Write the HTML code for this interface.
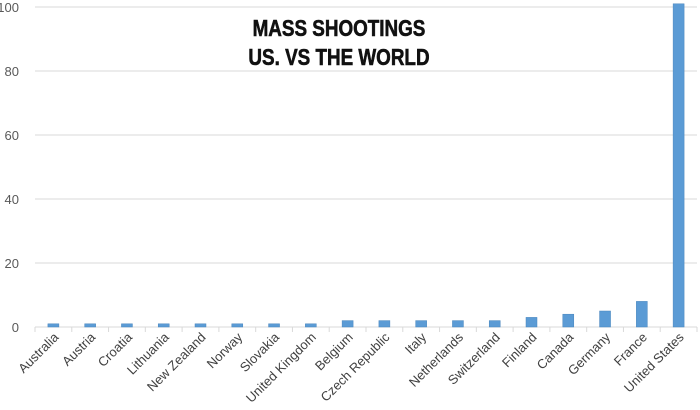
<!DOCTYPE html>
<html><head><meta charset="utf-8"><style>
body{margin:0;background:#fff;}
svg{display:block;font-family:"Liberation Sans",sans-serif;}
</style></head><body>
<svg id="chart" width="700" height="410">
<g id="grid"></g><g id="bars"></g><g id="labels"></g>
<g font-weight="bold" font-size="23" fill="#111" text-anchor="middle" stroke="#111" stroke-width="0.6">
<text x="339" y="36" transform="translate(339,0) scale(0.82,1) translate(-339,0)">MASS SHOOTINGS</text>
<text x="339" y="65" transform="translate(339,0) scale(0.82,1) translate(-339,0)">US. VS THE WORLD</text>
</g>
</svg>
<script>
const categories=["Australia","Austria","Croatia","Lithuania","New Zealand","Norway","Slovakia","United Kingdom","Belgium","Czech Republic","Italy","Netherlands","Switzerland","Finland","Canada","Germany","France","United States"];
const values=[1,1,1,1,1,1,1,1,2,2,2,2,2,3,4,5,8,101];
const yTicks=[0,20,40,60,80,100];
const NS="http://www.w3.org/2000/svg";
const x0=35,x1=697,y0=327,pxPer=3.2;
const bw=(x1-x0)/categories.length;
const y=v=>y0-v*pxPer;
const xc=i=>x0+bw*(i+0.5);
function mk(t,a,p){const e=document.createElementNS(NS,t);for(const k in a)e.setAttribute(k,a[k]);p.appendChild(e);return e;}
const grid=document.getElementById('grid');
yTicks.forEach(t=>{
  if(t>0){const l=mk('line',{x1:x0,x2:x1,y1:y(t),y2:y(t),stroke:'#d9d9d9','stroke-width':1},grid);
  
  }
  const tx=mk('text',{x:19,y:y(t)+5,'text-anchor':'end','font-size':13,fill:'#595959'},grid);
  tx.textContent=t;
  
  
});
const ax=mk('line',{x1:x0,x2:x1,y1:y0,y2:y0,stroke:'#d9d9d9'},grid);


for(let i=0;i<=categories.length;i++){
  const tk=mk('line',{x1:x0+bw*i,x2:x0+bw*i,y1:y0,y2:y0+5,stroke:'#d9d9d9'},grid);
  
  
}
const bars=document.getElementById('bars'),labs=document.getElementById('labels');
categories.forEach((c,i)=>{
  const r=mk('rect',{x:xc(i)-5.5,y:y(values[i]),width:11,height:values[i]*pxPer,fill:'#5b9bd5',stroke:'#4a86bd','stroke-width':0.5},bars);
  
  
  const t=mk('text',{x:xc(i)+6,y:y0+11,'text-anchor':'end','font-size':13,fill:'#404040',transform:`rotate(-45 ${xc(i)+6} ${y0+11})`},labs);
  t.textContent=c;
  
  
});
</script>
</body></html>
